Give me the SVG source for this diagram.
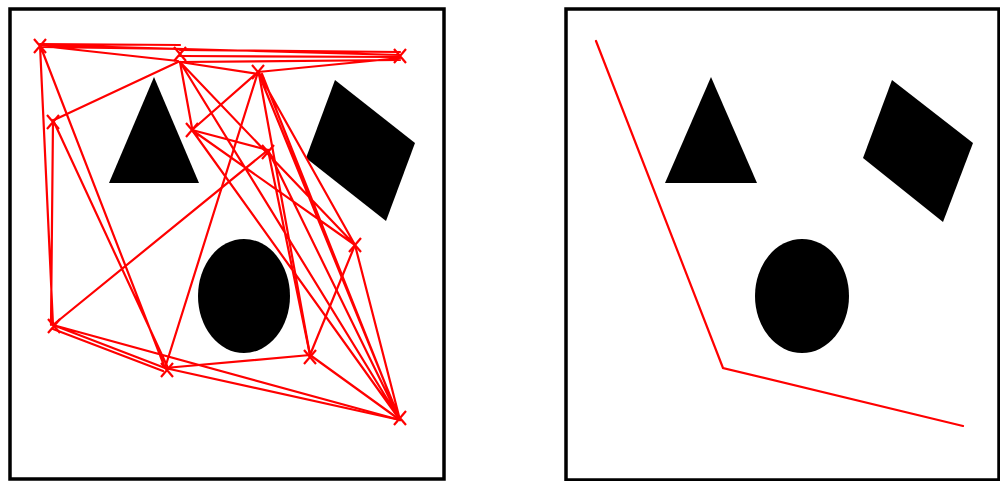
<svg xmlns="http://www.w3.org/2000/svg" width="1000" height="481" viewBox="0 0 1000 481">
<style>
.frame{fill:#fff;stroke:#000;stroke-width:3.5}
.obs{fill:#000}
.e{stroke:#f00;stroke-width:2.2;fill:none;stroke-linecap:round}
.x{stroke:#f00;stroke-width:2.2;fill:none}
</style>
<defs>
<path id="xm" d="M-6,-7 L6,7 M6,-7 L-6,7"/>
</defs>
<rect width="1000" height="481" fill="#fff"/>
<g id="left-panel">
<rect class="frame" x="10" y="9" width="434" height="470"/>
<polygon class="obs" points="154,77 199,183 109,183"/>
<polygon class="obs" points="335,80 415,143 386,221 306,158"/>
<ellipse class="obs" cx="244" cy="296" rx="46" ry="57"/>
</g>
<g id="connectors-left">
<path class="e" d="M40,44 L180,45 M40,47 L180,49 M42,46 L178,61 M40,45 L400,55 M180,50 L400,52 M180,56 L400,57 M180,62 L400,60 M258,72 L400,58"/>
<path class="e" d="M180,62 L258,74 M54,120 L178,62 M180,62 L192,128 M258,72 L192,130 M192,130 L268,150"/>
<path class="e" d="M40,45 L53,325 M53,120 L51,325 M40,45 L165,368 M53,120 L168,368 M53,325 L268,150 M53,325 L165,368 M53,329 L163,371 M53,325 L400,420"/>
<path class="e" d="M165,368 L258,72 M165,368 L310,355 M165,368 L400,420 M310,355 L400,420 M310,355 L259,74 M310,355 L355,245"/>
<path class="e" d="M180,62 L355,245 M180,62 L400,420 M192,130 L355,245 M192,130 L400,420 M258,72 L400,420 M258,72 L355,245 M268,150 L400,420 M268,150 L310,355 M355,245 L400,420 M262,74 L398,416"/>
</g>
<g id="markers-left">
<use href="#xm" class="x" x="40" y="46"/>
<use href="#xm" class="x" x="180" y="54"/>
<use href="#xm" class="x" x="400" y="56"/>
<use href="#xm" class="x" x="258" y="72"/>
<use href="#xm" class="x" x="53" y="122"/>
<use href="#xm" class="x" x="192" y="130"/>
<use href="#xm" class="x" x="268" y="152"/>
<use href="#xm" class="x" x="355" y="245"/>
<use href="#xm" class="x" x="54" y="326"/>
<use href="#xm" class="x" x="167" y="370"/>
<use href="#xm" class="x" x="310" y="357"/>
<use href="#xm" class="x" x="400" y="418"/>
</g>
<g id="right-panel">
<rect class="frame" x="566" y="9" width="433" height="471"/>
<polygon class="obs" points="711,77 757,183 665,183"/>
<polygon class="obs" points="892,80 973,143 943,222 863,158"/>
<ellipse class="obs" cx="802" cy="296" rx="47" ry="57"/>
</g>
<g id="connectors-right">
<polyline class="e" points="596,41 723,368 963,426"/>
</g>
</svg>
